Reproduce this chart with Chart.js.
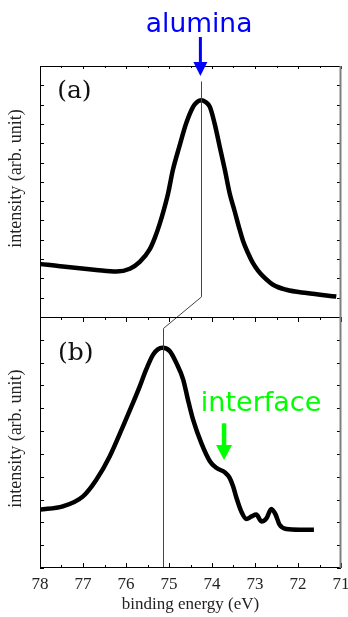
<!DOCTYPE html>
<html><head><meta charset="utf-8">
<script src="https://cdn.jsdelivr.net/npm/chart.js@4"></script>
<style>html,body{margin:0;padding:0;background:#fff}canvas{display:block}</style>
</head><body>
<canvas id="c" width="348" height="617"></canvas>
<script>
// ---- data ----
// panel (a): alumina
const energyA = [78.00, 77.47, 76.69, 76.22, 75.91, 75.68, 75.45, 75.33, 75.22, 75.12, 75.02, 74.91, 74.76, 74.60, 74.44, 74.34, 74.25, 74.15, 74.05, 73.94, 73.82, 73.70, 73.59, 73.47, 73.36, 73.28, 73.16, 73.05, 72.93, 72.81, 72.58, 72.27, 71.80, 71.11];
const intensityA = [2.75, 2.61, 2.44, 2.36, 2.50, 2.85, 3.50, 4.10, 4.80, 5.55, 6.41, 7.61, 8.82, 10.03, 10.88, 11.15, 11.23, 11.13, 10.88, 10.03, 8.82, 7.61, 6.41, 5.45, 4.55, 3.95, 3.30, 2.80, 2.40, 2.10, 1.67, 1.41, 1.24, 1.06];
// panel (b): interface
const energyB = [78.00, 77.47, 77.00, 76.69, 76.38, 76.07, 75.87, 75.68, 75.53, 75.37, 75.26, 75.15, 74.98, 74.83, 74.67, 74.56, 74.44, 74.25, 74.05, 73.90, 73.70, 73.59, 73.51, 73.43, 73.32, 73.20, 73.08, 72.97, 72.85, 72.73, 72.62, 72.52, 72.43, 72.27, 71.96, 71.63];
const intensityB = [2.56, 2.70, 3.14, 3.87, 4.89, 6.21, 7.09, 7.96, 8.70, 9.35, 9.58, 9.65, 9.50, 8.99, 8.26, 7.38, 6.50, 5.48, 4.68, 4.39, 4.19, 3.95, 3.58, 3.07, 2.48, 2.15, 2.26, 2.34, 2.04, 2.19, 2.59, 2.34, 1.90, 1.71, 1.68, 1.68];
// axes
const xMin = 71, xMax = 78, xStep = 0.5;
const yAMax = 13, yBMax = 11;
const xTitle = 'binding energy (eV)';
const yTitle = 'intensity (arb. unit)';
// peak markers (eV) and annotation anchors (data units)
const peakA = 74.26, peakB = 75.14;
const peakLineA = [12.20, 1.04];   // yA range of vertical line in (a)
const peakLineB = [10.50, 0];      // yB range of vertical line in (b)
const aluminaArrow = {x: 74.27, top: 14.50, headBase: 13.21, tip: 12.48};
const aluminaText = {text: 'alumina', x: 74.30, y: 14.74};
const interfaceArrow = {x: 73.72, top: 6.34, headBase: 5.39, tip: 4.73};
const interfaceText = {text: 'interface', x: 74.26, y: 6.89};
const panelLabels = [{text: '(a)', axis: 'yA', x: 77.20, y: 11.70}, {text: '(b)', axis: 'yB', x: 77.17, y: 9.38}];
const yTitlePos = [{axis: 'yA', y: 7.17}, {axis: 'yB', y: 5.67}];

const toPts = (xs, ys) => xs.map((e, i) => ({x: e, y: ys[i]}));

const decor = {
  id: 'decor',
  afterDraw(chart) {
    const {ctx, chartArea: a, scales} = chart;
    const {x, yA, yB} = scales;
    const X = v => x.getPixelForValue(v);
    ctx.save();
    const seg = (x1, y1, x2, y2) => { ctx.beginPath(); ctx.moveTo(x1, y1); ctx.lineTo(x2, y2); ctx.stroke(); };
    // peak lines and connector
    ctx.strokeStyle = '#444'; ctx.lineWidth = 1;
    const pa = Math.round(X(peakA)) + 0.5, pb = Math.round(X(peakB)) + 0.5;
    seg(pa, yA.getPixelForValue(peakLineA[0]), pa, yA.getPixelForValue(peakLineA[1]));
    seg(pa, yA.getPixelForValue(peakLineA[1]), pb, yB.getPixelForValue(peakLineB[0]));
    seg(pb, yB.getPixelForValue(peakLineB[0]), pb, yB.getPixelForValue(peakLineB[1]));
    // ticks
    ctx.strokeStyle = '#000'; ctx.lineWidth = 1;
    x.ticks.forEach(t => {
      const px = Math.round(X(t.value)) + 0.5;
      const major = Math.abs(t.value - Math.round(t.value)) < 1e-6;
      seg(px, yA.top, px, yA.top + (major ? 3 : 2));
      seg(px, yB.top, px, yB.top + (major ? 5 : 3));
      seg(px, yB.bottom, px, yB.bottom - (major ? 5 : 3));
    });
    [yA, yB].forEach(s => s.ticks.forEach(t => {
      const py = Math.round(s.getPixelForValue(t.value)) + 0.5;
      seg(a.left, py, a.left + 4, py);
      seg(a.right, py, a.right - 4, py);
    }));
    // frame
    const L = Math.round(a.left) + 0.5, R = Math.round(a.right) - 0.5;
    const T = Math.round(a.top) + 0.5, B = Math.round(a.bottom) - 0.5, D = Math.round(yB.top) + 0.5;
    seg(L, T, R, T); seg(L, T, L, B); seg(L, B, R, B); seg(L, D, R, D);
    ctx.strokeStyle = '#808080'; ctx.lineWidth = 2;
    seg(R, T - 0.5, R, B + 0.5);
    // arrows
    const arrow = (s, o, color, sw, hw) => {
      const cx = X(o.x), yt = s.getPixelForValue(o.top), yh = s.getPixelForValue(o.headBase), yp = s.getPixelForValue(o.tip);
      ctx.fillStyle = color;
      ctx.fillRect(cx - sw / 2, yt, sw, yh - yt);
      ctx.beginPath(); ctx.moveTo(cx - hw / 2, yh); ctx.lineTo(cx + hw / 2, yh); ctx.lineTo(cx, yp); ctx.closePath(); ctx.fill();
    };
    arrow(yA, aluminaArrow, '#0000ff', 3, 14);
    arrow(yB, interfaceArrow, '#00ff00', 4.5, 16);
    // texts
    ctx.textBaseline = 'alphabetic';
    ctx.fillStyle = '#0000ff'; ctx.font = '26.5px "DejaVu Sans"'; ctx.textAlign = 'center';
    ctx.fillText(aluminaText.text, X(aluminaText.x), yA.getPixelForValue(aluminaText.y));
    ctx.fillStyle = '#00ff00'; ctx.font = '27px "DejaVu Sans"'; ctx.textAlign = 'left';
    ctx.fillText(interfaceText.text, X(interfaceText.x), yB.getPixelForValue(interfaceText.y));
    ctx.fillStyle = '#111'; ctx.font = '25px "DejaVu Serif"'; ctx.textAlign = 'center'; ctx.textBaseline = 'middle';
    panelLabels.forEach(p => ctx.fillText(p.text, X(p.x), scales[p.axis].getPixelForValue(p.y)));
    ctx.fillStyle = '#222'; ctx.font = '18px "Liberation Serif"';
    yTitlePos.forEach(p => {
      ctx.save();
      ctx.translate(16, scales[p.axis].getPixelForValue(p.y));
      ctx.rotate(-Math.PI / 2);
      ctx.fillText(yTitle, 0, 0);
      ctx.restore();
    });
    ctx.restore();
  }
};

const yScale = (max, weight) => ({
  type: 'linear', position: 'left', stack: 'panels', stackWeight: 1, weight,
  min: 0, max, ticks: {stepSize: 1, display: false},
  grid: {display: false, drawTicks: false}, border: {display: false},
  afterFit(s) { s.width = 0; }
});

new Chart(document.getElementById('c'), {
  type: 'line',
  data: {datasets: [
    {data: toPts(energyA, intensityA), yAxisID: 'yA', borderColor: '#000', borderWidth: 4.5, pointRadius: 0, cubicInterpolationMode: 'monotone', fill: false},
    {data: toPts(energyB, intensityB), yAxisID: 'yB', borderColor: '#000', borderWidth: 4.5, pointRadius: 0, cubicInterpolationMode: 'monotone', fill: false}
  ]},
  options: {
    responsive: false, animation: false, devicePixelRatio: 1,
    layout: {padding: {left: 40, top: 66, right: 7, bottom: 0}},
    plugins: {legend: {display: false}, tooltip: {enabled: false}},
    scales: {
      x: {
        type: 'linear', position: 'bottom', min: xMin, max: xMax, reverse: true,
        grid: {display: false, drawTicks: false}, border: {display: false},
        ticks: {stepSize: xStep, autoSkip: false, maxRotation: 0, padding: 6, color: '#222',
          font: {family: 'Liberation Serif', size: 17},
          callback: v => Math.abs(v - Math.round(v)) < 1e-6 ? String(Math.round(v)) : ''},
        title: {display: true, text: xTitle, color: '#222', font: {family: 'Liberation Serif', size: 17}, padding: {top: 0, bottom: 2}},
        afterFit(s) { s.height = 49; s.paddingLeft = 0; s.paddingRight = 0; }
      },
      yB: yScale(yBMax, 0),
      yA: yScale(yAMax, 1)
    }
  },
  plugins: [decor]
});
</script>
</body></html>
